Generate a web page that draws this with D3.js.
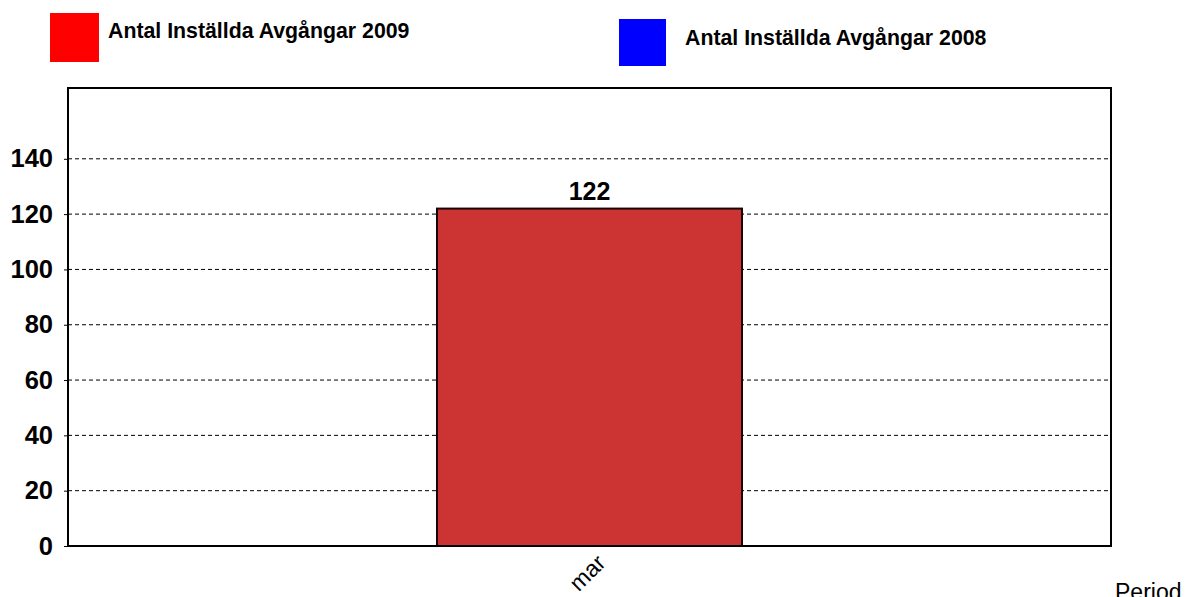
<!DOCTYPE html>
<html>
<head>
<meta charset="utf-8">
<script src="https://cdn.jsdelivr.net/npm/d3@7"></script>
<style>
  body { margin: 0; background: #fff; }
  text { font-family: Arial, "Liberation Sans", sans-serif; }
</style>
</head>
<body>
<div id="chart"></div>
<script>
// data
var months = ["mar"];
var values2009 = [122];
var values2008 = [];
var seriesNames = ["Antal Inställda Avgångar 2009", "Antal Inställda Avgångar 2008"];
var seriesColors = ["#ff0000", "#0000ff"];
var yTicks = [0, 20, 40, 60, 80, 100, 120, 140];

var W = 1187, H = 597;
var plotLeft = 68, plotRight = 1111, plotTop = 88, plotBottom = 546;

var svg = d3.select("#chart").append("svg")
    .attr("width", W)
    .attr("height", H);

// legend
var legendPos = [{x: 50, y: 13, size: 49, tx: 108, ty: 38}, {x: 619, y: 19, size: 47, tx: 685, ty: 45}];
seriesNames.forEach(function (name, i) {
    var p = legendPos[i];
    svg.append("rect")
        .attr("x", p.x).attr("y", p.y)
        .attr("width", p.size).attr("height", p.size)
        .attr("fill", seriesColors[i]);
    svg.append("text")
        .attr("x", p.tx).attr("y", p.ty)
        .style("font-size", "21.3px")
        .style("font-weight", "bold")
        .text(name);
});

var x = d3.scaleBand()
    .domain(months)
    .range([plotLeft, plotRight])
    .paddingInner(0)
    .paddingOuter(1.21);

var y = d3.scaleLinear()
    .domain([0, 165.6])
    .range([plotBottom, plotTop]);

// grid lines
svg.append("g")
    .selectAll("line")
    .data(yTicks.filter(function (d) { return d > 0; }))
    .enter().append("line")
    .attr("x1", plotLeft).attr("x2", plotRight)
    .attr("y1", function (d) { return y(d); })
    .attr("y2", function (d) { return y(d); })
    .attr("stroke", "#000")
    .attr("stroke-width", 1)
    .attr("stroke-dasharray", "4,3");

// y axis
var yAxis = svg.append("g")
    .attr("transform", "translate(" + plotLeft + ",0)")
    .call(d3.axisLeft(y).tickValues(yTicks).tickSize(4).tickPadding(11));
yAxis.select(".domain").remove();
yAxis.selectAll("line").attr("stroke", "#000");
yAxis.selectAll("text")
    .style("font-size", "25.5px")
    .style("font-weight", "bold")
    .style("font-family", "Arial, 'Liberation Sans', sans-serif")
    .attr("fill", "#000");

// bars
svg.append("g")
    .selectAll("rect")
    .data(values2009)
    .enter().append("rect")
    .attr("x", function (d, i) { return x(months[i]); })
    .attr("y", function (d) { return y(d); })
    .attr("width", x.bandwidth())
    .attr("height", function (d) { return plotBottom - y(d); })
    .attr("fill", "#cc3333")
    .attr("stroke", "#1a0000")
    .attr("stroke-width", 2);

// value labels
svg.append("g")
    .selectAll("text")
    .data(values2009)
    .enter().append("text")
    .attr("x", function (d, i) { return x(months[i]) + x.bandwidth() / 2; })
    .attr("y", function (d) { return y(d) - 9; })
    .attr("text-anchor", "middle")
    .style("font-size", "25px")
    .style("font-weight", "bold")
    .text(function (d) { return d; });

// plot border
svg.append("rect")
    .attr("x", plotLeft).attr("y", plotTop)
    .attr("width", plotRight - plotLeft).attr("height", plotBottom - plotTop)
    .attr("fill", "none")
    .attr("stroke", "#000")
    .attr("stroke-width", 2);

// x labels
svg.append("g")
    .selectAll("text")
    .data(months)
    .enter().append("text")
    .attr("transform", function (d) {
        return "translate(" + (x(d) + x.bandwidth() / 2 + 6) + "," + (plotBottom + 7) + ") rotate(-45)";
    })
    .attr("text-anchor", "end")
    .attr("dy", "0.7em")
    .style("font-size", "23px")
    .text(function (d) { return d; });

svg.append("text")
    .attr("x", 1115).attr("y", 600)
    .style("font-size", "23px")
    .text("Period");
</script>
</body>
</html>
